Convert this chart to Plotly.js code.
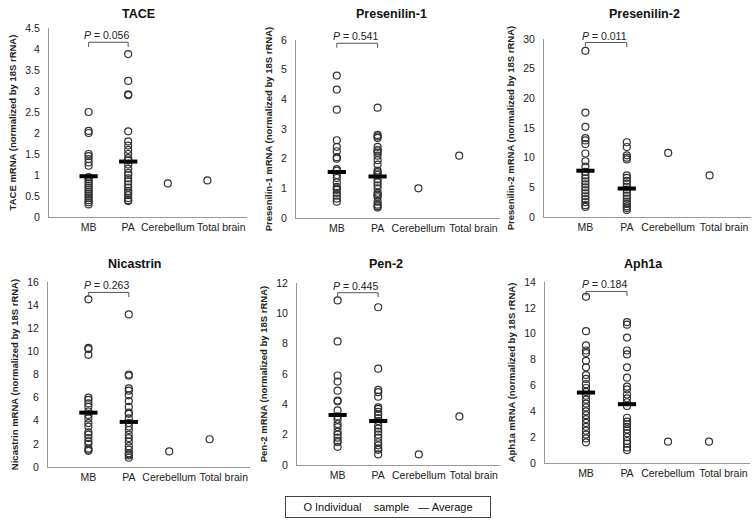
<!DOCTYPE html>
<html>
<head>
<meta charset="utf-8">
<script src="https://cdn.plot.ly/plotly-3.0.1.min.js"></script>
<style>html,body{margin:0;padding:0;background:#fff;}#chart{width:756px;height:520px;}</style>
</head>
<body>
<div id="chart"></div>
<script>
// ---- data ----
const categories = ['MB', 'PA', 'Cerebellum', 'Total brain'];
const geneNames = ['TACE', 'Presenilin-1', 'Presenilin-2', 'Nicastrin', 'Pen-2', 'Aph1a'];
const yTitles = [
  'TACE mRNA (normalized by 18S rRNA)',
  'Presenilin-1 mRNA (normalized by 18S rRNA)',
  'Presenilin-2 mRNA (normalized by 18S rRNA)',
  'Nicastrin mRNA (normalized by 18S rRNA)',
  'Pen-2 mRNA (normalized by 18S rRNA)',
  'Aph1a mRNA (normalized by 18S rRNA)'
];
const pValues = ['0.056', '0.541', '0.011', '0.263', '0.445', '0.184'];
const yMax = [4.5, 6, 30, 16, 12, 14];
const yStep = [0.5, 1, 5, 2, 2, 2];
const bracketLevel = [4.16, 5.89, 29.4, 15.1, 11.36, 13.27];

const taceMB = [2.5, 2.05, 2.0, 1.5, 1.45, 1.38, 1.3, 1.22, 0.95, 0.9, 0.85, 0.8, 0.75, 0.7, 0.65, 0.6, 0.55, 0.5, 0.45, 0.4, 0.35, 0.3];
const tacePA = [3.88, 3.24, 2.92, 2.9, 2.04, 1.8, 1.7, 1.6, 1.5, 1.4, 1.35, 1.25, 1.15, 1.05, 1.0, 0.92, 0.85, 0.78, 0.7, 0.62, 0.58, 0.52, 0.45, 0.4, 0.38];
const taceCerebellum = [0.8];
const taceTotalBrain = [0.87];
const taceAvg = [0.97, 1.32];

const ps1MB = [4.8, 4.33, 3.65, 2.62, 2.4, 2.25, 2.05, 2.0, 1.65, 1.6, 1.45, 1.35, 1.2, 1.05, 1.0, 0.95, 0.85, 0.75, 0.65, 0.55];
const ps1PA = [3.72, 2.8, 2.75, 2.7, 2.4, 2.3, 2.25, 2.2, 2.1, 1.95, 1.8, 1.6, 1.55, 1.5, 1.45, 1.3, 1.2, 1.1, 1.0, 0.85, 0.8, 0.75, 0.7, 0.55, 0.45, 0.4, 0.35];
const ps1Cerebellum = [1.0];
const ps1TotalBrain = [2.1];
const ps1Avg = [1.55, 1.4];

const ps2MB = [28.0, 17.6, 15.2, 13.3, 12.9, 12.3, 10.7, 9.4, 8.5, 7.6, 7.0, 6.5, 6.0, 5.5, 5.0, 4.5, 4.0, 3.5, 3.0, 2.5, 2.0, 1.7];
const ps2PA = [12.6, 11.8, 10.4, 10.0, 9.7, 7.0, 6.6, 6.1, 5.6, 5.1, 4.6, 4.1, 3.6, 3.1, 2.6, 2.2, 1.8, 1.5, 1.2];
const ps2Cerebellum = [10.8];
const ps2TotalBrain = [7.0];
const ps2Avg = [7.8, 4.8];

const nctMB = [14.5, 10.3, 10.2, 9.7, 6.0, 5.8, 5.5, 5.2, 4.8, 4.5, 4.2, 3.8, 3.5, 3.0, 2.8, 2.5, 2.2, 2.0, 1.6, 1.5, 1.4];
const nctPA = [13.2, 8.0, 7.9, 6.8, 6.6, 6.2, 5.7, 5.2, 4.7, 4.6, 4.2, 3.8, 3.5, 3.2, 2.8, 2.5, 2.2, 1.8, 1.5, 1.2, 1.1, 1.0, 0.8];
const nctCerebellum = [1.35];
const nctTotalBrain = [2.4];
const nctAvg = [4.7, 3.9];

const pen2MB = [10.85, 8.15, 5.9, 5.5, 4.9, 4.25, 4.2, 3.6, 3.2, 3.0, 2.7, 2.5, 2.2, 2.0, 1.8, 1.6, 1.5, 1.2];
const pen2PA = [10.4, 6.35, 4.95, 4.8, 4.5, 3.8, 3.7, 3.5, 3.3, 3.1, 2.9, 2.6, 2.4, 2.2, 2.0, 1.8, 1.5, 1.3, 1.1, 1.0, 0.7];
const pen2Cerebellum = [0.7];
const pen2TotalBrain = [3.2];
const pen2Avg = [3.3, 2.9];

const aphMB = [12.85, 10.2, 9.1, 8.7, 8.5, 7.9, 7.4, 6.8, 6.5, 6.1, 5.8, 5.5, 5.2, 4.9, 4.6, 4.3, 4.0, 3.7, 3.4, 3.1, 2.8, 2.5, 2.2, 1.9, 1.6];
const aphPA = [10.9, 10.7, 9.7, 8.7, 8.4, 7.4, 6.6, 5.9, 5.7, 5.3, 5.0, 4.7, 4.4, 3.5, 3.2, 3.0, 2.8, 2.6, 2.3, 2.0, 1.7, 1.5, 1.2, 1.0];
const aphCerebellum = [1.65];
const aphTotalBrain = [1.65];
const aphAvg = [5.45, 4.55];

const legendText = 'O Individual\u00a0\u00a0\u00a0 sample\u00a0\u00a0 \u2014 Average';

// ---- assemble ----
const groups = [
  [taceMB, tacePA, taceCerebellum, taceTotalBrain, taceAvg],
  [ps1MB, ps1PA, ps1Cerebellum, ps1TotalBrain, ps1Avg],
  [ps2MB, ps2PA, ps2Cerebellum, ps2TotalBrain, ps2Avg],
  [nctMB, nctPA, nctCerebellum, nctTotalBrain, nctAvg],
  [pen2MB, pen2PA, pen2Cerebellum, pen2TotalBrain, pen2Avg],
  [aphMB, aphPA, aphCerebellum, aphTotalBrain, aphAvg]
];

// category k is drawn at x = k + 1 on a 0..5 axis (as in the original Excel chart)
const catPos = categories.map((c, k) => k + 1);
// the reference's last category label sits a little right of its points
const labelShift = [0, 0, 0, 0.35];
const tickPos = catPos.map((p, k) => p + labelShift[k]);

// plot areas in pixels [left, right, top, bottom]
const W = 756, H = 520;
const boxes = [
  [49, 247, 28, 217], [296, 500, 40, 218], [544, 751, 39, 217],
  [48, 250, 282, 467], [297, 500, 283, 465], [545, 750, 282, 463]
];
const titlePos = [[138, 14], [391, 14], [644, 14], [135, 264], [386, 264], [643, 264]];

const FONT = 'Liberation Sans, Arial, sans-serif';
const traces = [];
const annotations = [];
const layout = {
  width: W, height: H,
  margin: {l: 0, r: 0, t: 0, b: 0},
  paper_bgcolor: '#fff', plot_bgcolor: '#fff',
  showlegend: false,
  font: {family: FONT, color: '#222'},
  annotations: annotations
};

groups.forEach((g, i) => {
  const n = i + 1;
  const xa = 'x' + (n === 1 ? '' : n), ya = 'y' + (n === 1 ? '' : n);
  const xs = [], ys = [];
  for (let c = 0; c < 4; c++) {
    g[c].forEach(v => { xs.push(catPos[c]); ys.push(v); });
  }
  traces.push({
    type: 'scatter', mode: 'markers', x: xs, y: ys, xaxis: xa, yaxis: ya,
    marker: {symbol: 'circle-open', size: 7, color: '#333', line: {width: 1.2, color: '#333'}},
    hoverinfo: 'y'
  });
  traces.push({
    type: 'scatter', mode: 'markers', x: catPos.slice(0, 2), y: g[4], xaxis: xa, yaxis: ya,
    marker: {symbol: 'line-ew', size: 13, color: '#000', line: {width: 4, color: '#000'}},
    hoverinfo: 'y'
  });
  // significance bracket between MB and PA
  const lv = bracketLevel[i], d = yMax[i] * 0.025;
  traces.push({
    type: 'scatter', mode: 'lines', xaxis: xa, yaxis: ya,
    x: [catPos[0], catPos[0], catPos[1], catPos[1]],
    y: [lv - d, lv, lv, lv - d],
    line: {color: '#555', width: 1}, hoverinfo: 'skip'
  });
  annotations.push({
    xref: xa, yref: ya, x: (catPos[0] + catPos[1]) / 2 - 0.05, y: lv,
    yanchor: 'bottom', xanchor: 'center', yshift: -1,
    text: '<i>P</i> = ' + pValues[i], showarrow: false,
    font: {size: 10.5, family: FONT, color: '#222'}
  });
  const b = boxes[i];
  layout['xaxis' + (n === 1 ? '' : n)] = {
    domain: [b[0] / W, b[1] / W], anchor: ya,
    range: [0, 5], tickmode: 'array', tickvals: tickPos, ticktext: categories, tickangle: 0,
    showgrid: false, zeroline: false,
    showline: true, linecolor: '#999', linewidth: 1, ticks: '',
    tickfont: {size: 10.5, family: FONT, color: '#222'}
  };
  layout['yaxis' + (n === 1 ? '' : n)] = {
    domain: [1 - b[3] / H, 1 - b[2] / H], anchor: xa,
    range: [0, yMax[i]], dtick: yStep[i], tick0: 0,
    showgrid: false, zeroline: false,
    showline: true, linecolor: '#999', linewidth: 1, ticks: '',
    ticklabelstandoff: 6,
    tickfont: {size: 10.5, family: FONT, color: '#222'},
    title: {text: '<b>' + yTitles[i] + '</b>', standoff: 6, font: {size: 9.5, family: FONT, color: '#222'}}
  };
  annotations.push({
    xref: 'paper', yref: 'paper', x: titlePos[i][0] / W, y: 1 - titlePos[i][1] / H,
    xanchor: 'center', yanchor: 'middle', showarrow: false,
    text: '<b>' + geneNames[i] + '</b>', font: {size: 12.5, family: FONT, color: '#111'}
  });
});

annotations.push({
  xref: 'paper', yref: 'paper', x: 388 / W, y: 1 - 507 / H, xanchor: 'center', yanchor: 'middle',
  showarrow: false, text: legendText, width: 198, height: 14, borderpad: 3,
  bordercolor: '#444', borderwidth: 1, bgcolor: '#fff',
  font: {size: 11, family: FONT, color: '#111'}
});

Plotly.newPlot('chart', traces, layout, {staticPlot: true});
</script>
</body>
</html>
